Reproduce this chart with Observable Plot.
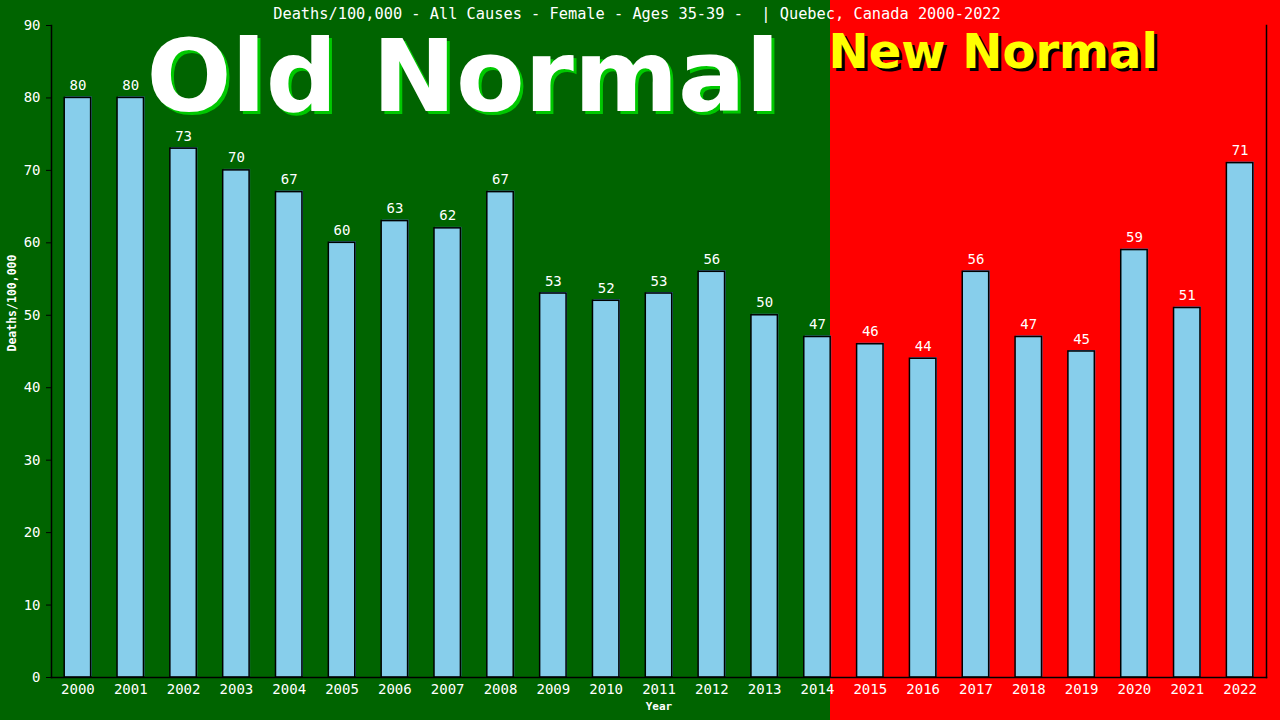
<!DOCTYPE html>
<html>
<head>
<meta charset="utf-8">
<script src="https://cdn.jsdelivr.net/npm/d3@7"></script>
<script src="https://cdn.jsdelivr.net/npm/@observablehq/plot@0.6"></script>
<style>
  html, body { margin: 0; padding: 0; overflow: hidden; background: #006400; }
  #chart svg { display: block; }
</style>
</head>
<body>
<div id="chart"></div>
<script>
const years = ["2000","2001","2002","2003","2004","2005","2006","2007","2008","2009","2010","2011","2012","2013","2014","2015","2016","2017","2018","2019","2020","2021","2022"];
const values = [80,80,73,70,67,60,63,62,67,53,52,53,56,50,47,46,44,56,47,45,59,51,71];
const yTicks = [0,10,20,30,40,50,60,70,80,90];
const title = "Deaths/100,000 - All Causes - Female - Ages 35-39 -  | Quebec, Canada 2000-2022";
const yLabel = "Deaths/100,000";
const xLabel = "Year";
const oldLabel = "Old Normal";
const newLabel = "New Normal";
const lastOldYear = "2014";

const data = years.map((y, i) => ({year: y, value: values[i]}));

const mono = "'DejaVu Sans Mono', monospace";
const sans = "'DejaVu Sans', sans-serif";

const plot = Plot.plot({
  width: 1280,
  height: 720,
  marginLeft: 51,
  marginRight: 14,
  marginTop: 25,
  marginBottom: 43,
  x: {type: "band", domain: years, paddingInner: 0.5, paddingOuter: 0.25, round: false, axis: null},
  y: {domain: [0, 90], axis: null},
  style: {fontFamily: mono, fontSize: "14px", color: "white", background: "transparent", overflow: "visible"},
  marks: [
    Plot.axisX({tickSize: 0, tickPadding: 7, label: null, fill: "white", fontSize: 14}),
    Plot.axisY({ticks: yTicks, tickSize: 5, tickPadding: 6, label: null, stroke: "black", fill: "white", fontSize: 14}),
    Plot.barY(data, {x: "year", y: "value", fill: "#4a7fc1", dx: 1, dy: -1}),
    Plot.barY(data, {x: "year", y: "value", fill: "#87ceeb", stroke: "black", strokeWidth: 1.5}),
    Plot.text(data, {x: "year", y: "value", text: d => String(d.value), dy: -8, lineAnchor: "bottom", fill: "white", fontSize: 14}),
    Plot.frame({anchor: "left", stroke: "black", strokeWidth: 1.5}),
    Plot.frame({anchor: "right", stroke: "black", strokeWidth: 1.5}),
    Plot.frame({anchor: "bottom", stroke: "black", strokeWidth: 1.5}),
    Plot.text([title], {text: d => d, frameAnchor: "top", dx: -22, dy: -7, lineAnchor: "bottom", fill: "white", fontSize: 15.3}),
    Plot.text([yLabel], {text: d => d, frameAnchor: "left", rotate: -90, dx: -39.5, fill: "white", fontWeight: "bold", fontSize: 11.5}),
    Plot.text([xLabel], {text: d => d, frameAnchor: "bottom", dy: 32, fill: "white", fontWeight: "bold", fontSize: 11}),
    Plot.text([oldLabel], {text: d => d, frameAnchor: "top-left", textAnchor: "start", lineAnchor: "bottom", dx: 98, dy: 88, fill: "#00c800", fontFamily: sans, fontWeight: "bold", fontSize: 100}),
    Plot.text([oldLabel], {text: d => d, frameAnchor: "top-left", textAnchor: "start", lineAnchor: "bottom", dx: 95, dy: 85, fill: "white", fontFamily: sans, fontWeight: "bold", fontSize: 100}),
    Plot.text([newLabel], {text: d => d, frameAnchor: "top-left", textAnchor: "start", lineAnchor: "bottom", dx: 780, dy: 45, fill: "black", fontFamily: sans, fontWeight: "bold", fontSize: 48}),
    Plot.text([newLabel], {text: d => d, frameAnchor: "top-left", textAnchor: "start", lineAnchor: "bottom", dx: 777, dy: 42, fill: "#ffff00", fontFamily: sans, fontWeight: "bold", fontSize: 48})
  ]
});

// Background split at the right edge of the last "old normal" bar, from the x scale
let boundary = 830;
try {
  const sx = plot.scale("x");
  const scale = d3.scaleBand().domain(sx.domain).range(sx.range).paddingInner(sx.paddingInner ?? 0.5).paddingOuter(sx.paddingOuter ?? 0.25).align(sx.align ?? 0.5);
  boundary = scale(lastOldYear) + scale.bandwidth();
} catch (e) {}
plot.style.background = `linear-gradient(to right, #006400 ${boundary}px, #ff0000 ${boundary}px)`;
document.getElementById("chart").appendChild(plot);
</script>
</body>
</html>
